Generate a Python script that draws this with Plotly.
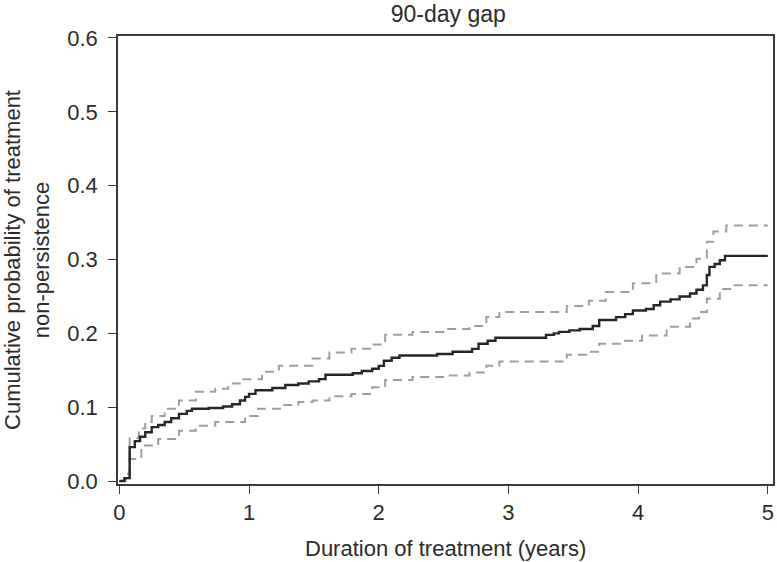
import plotly.graph_objects as go

# Kaplan-Meier style cumulative probability of non-persistence (step function)
main_t = [0, 0.04, 0.08, 0.12, 0.16, 0.20, 0.25, 0.30, 0.35, 0.40, 0.46, 0.52, 0.56, 0.69, 0.80, 0.87, 0.93, 0.97,
          1.00, 1.05, 1.18, 1.28, 1.38, 1.46, 1.54, 1.59, 1.80, 1.87, 1.95, 2.00, 2.04, 2.10, 2.16, 2.45, 2.57, 2.72,
          2.77, 2.84, 2.90, 3.29, 3.35, 3.39, 3.47, 3.55, 3.65, 3.70, 3.83, 3.90, 3.96, 4.06, 4.12, 4.17, 4.25,
          4.32, 4.40, 4.45, 4.50, 4.53, 4.55, 4.59, 4.63, 4.67, 5.00]
main_v = [0, 0.004, 0.046, 0.054, 0.060, 0.066, 0.073, 0.076, 0.080, 0.085, 0.091, 0.095, 0.098, 0.099, 0.101, 0.104, 0.109, 0.114,
          0.118, 0.123, 0.126, 0.130, 0.132, 0.135, 0.138, 0.144, 0.146, 0.149, 0.152, 0.156, 0.163, 0.167, 0.170, 0.172, 0.175, 0.179,
          0.186, 0.190, 0.194, 0.198, 0.200, 0.202, 0.204, 0.206, 0.210, 0.218, 0.222, 0.226, 0.231, 0.233, 0.238, 0.243, 0.246,
          0.250, 0.254, 0.259, 0.265, 0.279, 0.290, 0.294, 0.299, 0.305, 0.305]

upper_t = [0, 0.04, 0.08, 0.15, 0.20, 0.25, 0.35, 0.46, 0.59, 0.74, 0.84, 0.94, 1.10, 1.23, 1.49, 1.62, 1.79, 1.95,
           2.05, 2.26, 2.52, 2.70, 2.83, 2.93, 3.26, 3.45, 3.62, 3.75, 3.96, 4.14, 4.32, 4.45, 4.53, 4.58, 4.68, 5.00]
upper_v = [0, 0.010, 0.058, 0.071, 0.080, 0.088, 0.098, 0.109, 0.121, 0.125, 0.132, 0.138, 0.148, 0.156, 0.166, 0.174, 0.179, 0.185,
           0.198, 0.202, 0.206, 0.210, 0.222, 0.229, 0.229, 0.237, 0.244, 0.256, 0.268, 0.281, 0.290, 0.301, 0.324, 0.338, 0.346, 0.346]

lower_t = [0, 0.04, 0.08, 0.17, 0.30, 0.46, 0.59, 0.74, 0.87, 0.97, 1.07, 1.25, 1.38, 1.49, 1.62, 1.79, 1.95,
           2.05, 2.26, 2.52, 2.70, 2.83, 2.93, 3.26, 3.45, 3.60, 3.70, 3.88, 4.03, 4.22, 4.40, 4.47, 4.53, 4.63, 4.73, 5.00]
lower_v = [0, 0.002, 0.030, 0.048, 0.057, 0.068, 0.075, 0.080, 0.080, 0.088, 0.098, 0.103, 0.107, 0.109, 0.115, 0.118, 0.127,
           0.137, 0.141, 0.143, 0.147, 0.156, 0.162, 0.162, 0.171, 0.175, 0.186, 0.190, 0.197, 0.209, 0.220, 0.229, 0.247, 0.260, 0.265, 0.265]

x_ticks = [0, 1, 2, 3, 4, 5]
y_ticks = [0.0, 0.1, 0.2, 0.3, 0.4, 0.5, 0.6]

title_text = "90-day gap"
x_title = "Duration of treatment (years)"
y_title = "Cumulative probability of treatment<br>non-persistence"

fig = go.Figure()
for t, v in [(upper_t, upper_v), (lower_t, lower_v)]:
    fig.add_trace(go.Scatter(x=t, y=v, mode="lines", line=dict(color="#9e9e9e", width=2, dash="9px,6px", shape="hv"),
                             showlegend=False, hoverinfo="skip"))
fig.add_trace(go.Scatter(x=main_t, y=main_v, mode="lines", line=dict(color="#262626", width=2.4, shape="hv"),
                         showlegend=False))

txt = "#2b2b2b"
font = dict(family="Liberation Sans, Arial, sans-serif", size=22, color=txt)
axis_common = dict(ticks="outside", ticklen=8, tickwidth=1.4, tickcolor="#3a3a3a", showline=True, linecolor="#3a3a3a",
                   linewidth=1.6, mirror=True, showgrid=False, zeroline=False, automargin=False,
                   tickfont=dict(size=22, color=txt))
fig.update_layout(
    width=777, height=562,
    margin=dict(l=118, r=4, t=36, b=78, autoexpand=False),
    paper_bgcolor="white", plot_bgcolor="white",
    font=font,
    title=dict(text=title_text, x=0.577, xanchor="center", xref="container", y=0.976, yanchor="middle",
               yref="container", font=dict(size=23, color=txt), automargin=False),
    xaxis=dict(range=[-0.01, 5.04], tickvals=x_ticks, ticklabelstandoff=0, **axis_common),
    yaxis=dict(range=[-0.004, 0.6027], tickvals=y_ticks, tickformat=".1f", ticklabelstandoff=6, **axis_common),
    annotations=[
        dict(text=x_title, xref="paper", yref="paper", x=0.5, y=-0.143, xanchor="center", yanchor="middle",
             showarrow=False, font=dict(size=22, color=txt)),
        dict(text=y_title, xref="paper", yref="paper", x=-0.139, y=0.5, xanchor="center", yanchor="middle",
             textangle=-90, showarrow=False, font=dict(size=22, color=txt)),
    ],
)
fig.write_html("out.html", config={"displayModeBar": False},
               post_script="document.body.style.margin='0';document.body.style.padding='0';document.body.style.overflow='hidden';")
